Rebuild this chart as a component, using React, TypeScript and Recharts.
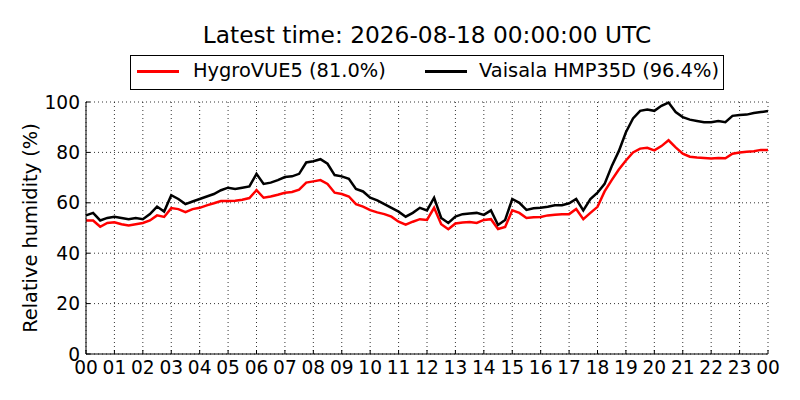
import { CartesianGrid, Line, LineChart, XAxis, YAxis } from "recharts";

// hours since 00:00 UTC, every 15 minutes
const hours = [
  0, 0.25, 0.5, 0.75, 1, 1.25, 1.5, 1.75, 2, 2.25, 2.5, 2.75,
  3, 3.25, 3.5, 3.75, 4, 4.25, 4.5, 4.75, 5, 5.25, 5.5, 5.75,
  6, 6.25, 6.5, 6.75, 7, 7.25, 7.5, 7.75, 8, 8.25, 8.5, 8.75,
  9, 9.25, 9.5, 9.75, 10, 10.25, 10.5, 10.75, 11, 11.25, 11.5, 11.75,
  12, 12.25, 12.5, 12.75, 13, 13.25, 13.5, 13.75, 14, 14.25, 14.5, 14.75,
  15, 15.25, 15.5, 15.75, 16, 16.25, 16.5, 16.75, 17, 17.25, 17.5, 17.75,
  18, 18.25, 18.5, 18.75, 19, 19.25, 19.5, 19.75, 20, 20.25, 20.5, 20.75,
  21, 21.25, 21.5, 21.75, 22, 22.25, 22.5, 22.75, 23, 23.25, 23.5, 23.75,
  24,
];

const hygrovue = [
  53, 53, 50.5, 52, 52.3, 51.5, 51, 51.5, 52, 53, 55, 54.4,
  57.9, 57.5, 56.3, 57.5, 58, 59, 59.8, 60.7, 60.7, 60.8, 61.2, 61.9,
  65, 62, 62.5, 63.2, 64, 64.3, 65.2, 68, 68.5, 69, 67.5, 64,
  63.5, 62.5, 59.5, 58.5, 57.1, 56.2, 55.5, 54.5, 52.5, 51.3, 52.5, 53.5,
  53.2, 58, 51.5, 49.5, 51.8, 52.2, 52.4, 52, 53.2, 53.5, 49.6, 50.4,
  57, 56, 54, 54.3, 54.4, 55, 55.3, 55.5, 55.5, 57.5, 53.5, 56,
  58.4, 64.5, 69, 73.2, 76.8, 80, 81.5, 81.8, 80.8, 82.5, 84.8, 82,
  79.5, 78.3, 78, 77.8, 77.6, 77.8, 77.7, 79.5, 80, 80.3, 80.5, 81,
  81,
];

const vaisala = [
  55, 56, 53, 54, 54.5, 54, 53.5, 54, 53.5, 55.5, 58.5, 56.5,
  63, 61.5, 59.5, 60.5, 61.5, 62.5, 63.5, 65, 66, 65.5, 66, 66.5,
  71.5, 67.5, 68, 69, 70.2, 70.5, 71.5, 76, 76.5, 77.3, 75.5, 71,
  70.5, 69.5, 65.5, 64.5, 62, 61, 59.5, 58, 56.5, 54.5, 56, 58,
  57, 62, 54, 52, 54.5, 55.5, 55.8, 56, 55.2, 57, 51.2, 53.2,
  61.5, 60, 57.2, 57.8, 58, 58.4, 59, 59, 59.8, 61.5, 57, 61.5,
  64, 67.5, 74.5, 80.5, 88, 93.5, 96.5, 97, 96.5, 98.5, 99.8, 96,
  94, 93, 92.5, 92, 92, 92.5, 92, 94.5, 94.8, 95, 95.6, 96,
  96.4,
];

const hourTicks = [
  0, 1, 2, 3, 4, 5, 6, 7, 8, 9, 10, 11, 12,
  13, 14, 15, 16, 17, 18, 19, 20, 21, 22, 23, 24,
];
const hourLabels = [
  "00", "01", "02", "03", "04", "05", "06", "07", "08", "09", "10", "11", "12",
  "13", "14", "15", "16", "17", "18", "19", "20", "21", "22", "23", "00",
];
const rhTicks = [0, 20, 40, 60, 80, 100];

const data = hours.map((h, i) => ({ h, hygro: hygrovue[i], vaisala: vaisala[i] }));

const FONT = "'DejaVu Sans', sans-serif";
const TICK_FONT = 18.6;
const TICK_LEN = 4;
const X_MARGIN = 7;
const Y_MARGIN = 6;

function BottomTick(props: any) {
  const { x, y, payload } = props;
  const axisY = y - X_MARGIN;
  return (
    <g>
      <line x1={x} x2={x} y1={axisY} y2={axisY - TICK_LEN} stroke="#000" />
      <text x={x} y={y} dy="0.72em" textAnchor="middle" fontSize={TICK_FONT} fontFamily={FONT} fill="#000">
        {hourLabels[hourTicks.indexOf(payload.value)]}
      </text>
    </g>
  );
}

function TopTick(props: any) {
  const { x, y } = props;
  return <line x1={x} x2={x} y1={y} y2={y + TICK_LEN} stroke="#000" />;
}

function LeftTick(props: any) {
  const { x, y, payload } = props;
  const axisX = x + Y_MARGIN;
  return (
    <g>
      <line x1={axisX} x2={axisX + TICK_LEN} y1={y} y2={y} stroke="#000" />
      <text x={x} y={y} dy="0.36em" textAnchor="end" fontSize={TICK_FONT} fontFamily={FONT} fill="#000">
        {payload.value}
      </text>
    </g>
  );
}

function RightTick(props: any) {
  const { x, y } = props;
  return <line x1={x} x2={x - TICK_LEN} y1={y} y2={y} stroke="#000" />;
}

export default function App() {
  return (
    <div style={{ position: "absolute", left: 0, top: 0, width: 800, height: 400, background: "#fff", fontFamily: FONT }}>
      <div
        style={{
          position: "absolute",
          left: 0,
          width: 854,
          top: 20,
          textAlign: "center",
          fontSize: 23.3,
          lineHeight: "30px",
        }}
      >
        Latest time: 2026-08-18 00:00:00 UTC
      </div>

      <div
        style={{
          position: "absolute",
          left: 130,
          top: 55,
          width: 592,
          height: 33,
          border: "1px solid #000",
          fontSize: 19.4,
          lineHeight: "24px",
        }}
      >
        <div style={{ position: "absolute", left: 6, top: 14, width: 42, height: 3, background: "#ff0000" }} />
        <span style={{ position: "absolute", left: 62, top: 3, whiteSpace: "nowrap" }}>HygroVUE5 (81.0%)</span>
        <div style={{ position: "absolute", left: 294, top: 14, width: 42, height: 3, background: "#000" }} />
        <span style={{ position: "absolute", left: 348, top: 3, whiteSpace: "nowrap" }}>Vaisala HMP35D (96.4%)</span>
      </div>

      <div
        style={{
          position: "absolute",
          left: 30,
          top: 228,
          transform: "translate(-50%, -50%) rotate(-90deg)",
          whiteSpace: "nowrap",
          fontSize: 19.4,
        }}
      >
        Relative humidity (%)
      </div>

      <LineChart width={800} height={400} data={data} margin={{ top: 102, right: 32, bottom: 16, left: 26 }}>
        <CartesianGrid stroke="#000" strokeWidth={0.8} strokeDasharray="1 3" horizontalValues={rhTicks} verticalValues={hourTicks} />
        <XAxis
          dataKey="h"
          type="number"
          domain={[0, 24]}
          ticks={hourTicks}
          interval={0}
          height={30}
          tickSize={0}
          tickMargin={X_MARGIN}
          tick={<BottomTick />}
          axisLine={{ stroke: "#000", strokeWidth: 1 }}
        />
        <XAxis
          xAxisId="top"
          orientation="top"
          dataKey="h"
          type="number"
          domain={[0, 24]}
          ticks={hourTicks}
          interval={0}
          height={0}
          tickSize={0}
          tickMargin={0}
          tick={<TopTick />}
          axisLine={{ stroke: "#000", strokeWidth: 1 }}
        />
        <YAxis
          type="number"
          domain={[0, 100]}
          ticks={rhTicks}
          interval={0}
          width={60}
          tickSize={0}
          tickMargin={Y_MARGIN}
          tick={<LeftTick />}
          axisLine={{ stroke: "#000", strokeWidth: 1 }}
        />
        <YAxis
          yAxisId="right"
          orientation="right"
          type="number"
          domain={[0, 100]}
          ticks={rhTicks}
          interval={0}
          width={0}
          tickSize={0}
          tickMargin={0}
          tick={<RightTick />}
          axisLine={{ stroke: "#000", strokeWidth: 1 }}
        />
        <Line dataKey="hygro" stroke="#ff0000" strokeWidth={2.5} dot={false} isAnimationActive={false} />
        <Line dataKey="vaisala" stroke="#000" strokeWidth={2.5} dot={false} isAnimationActive={false} />
      </LineChart>
    </div>
  );
}
